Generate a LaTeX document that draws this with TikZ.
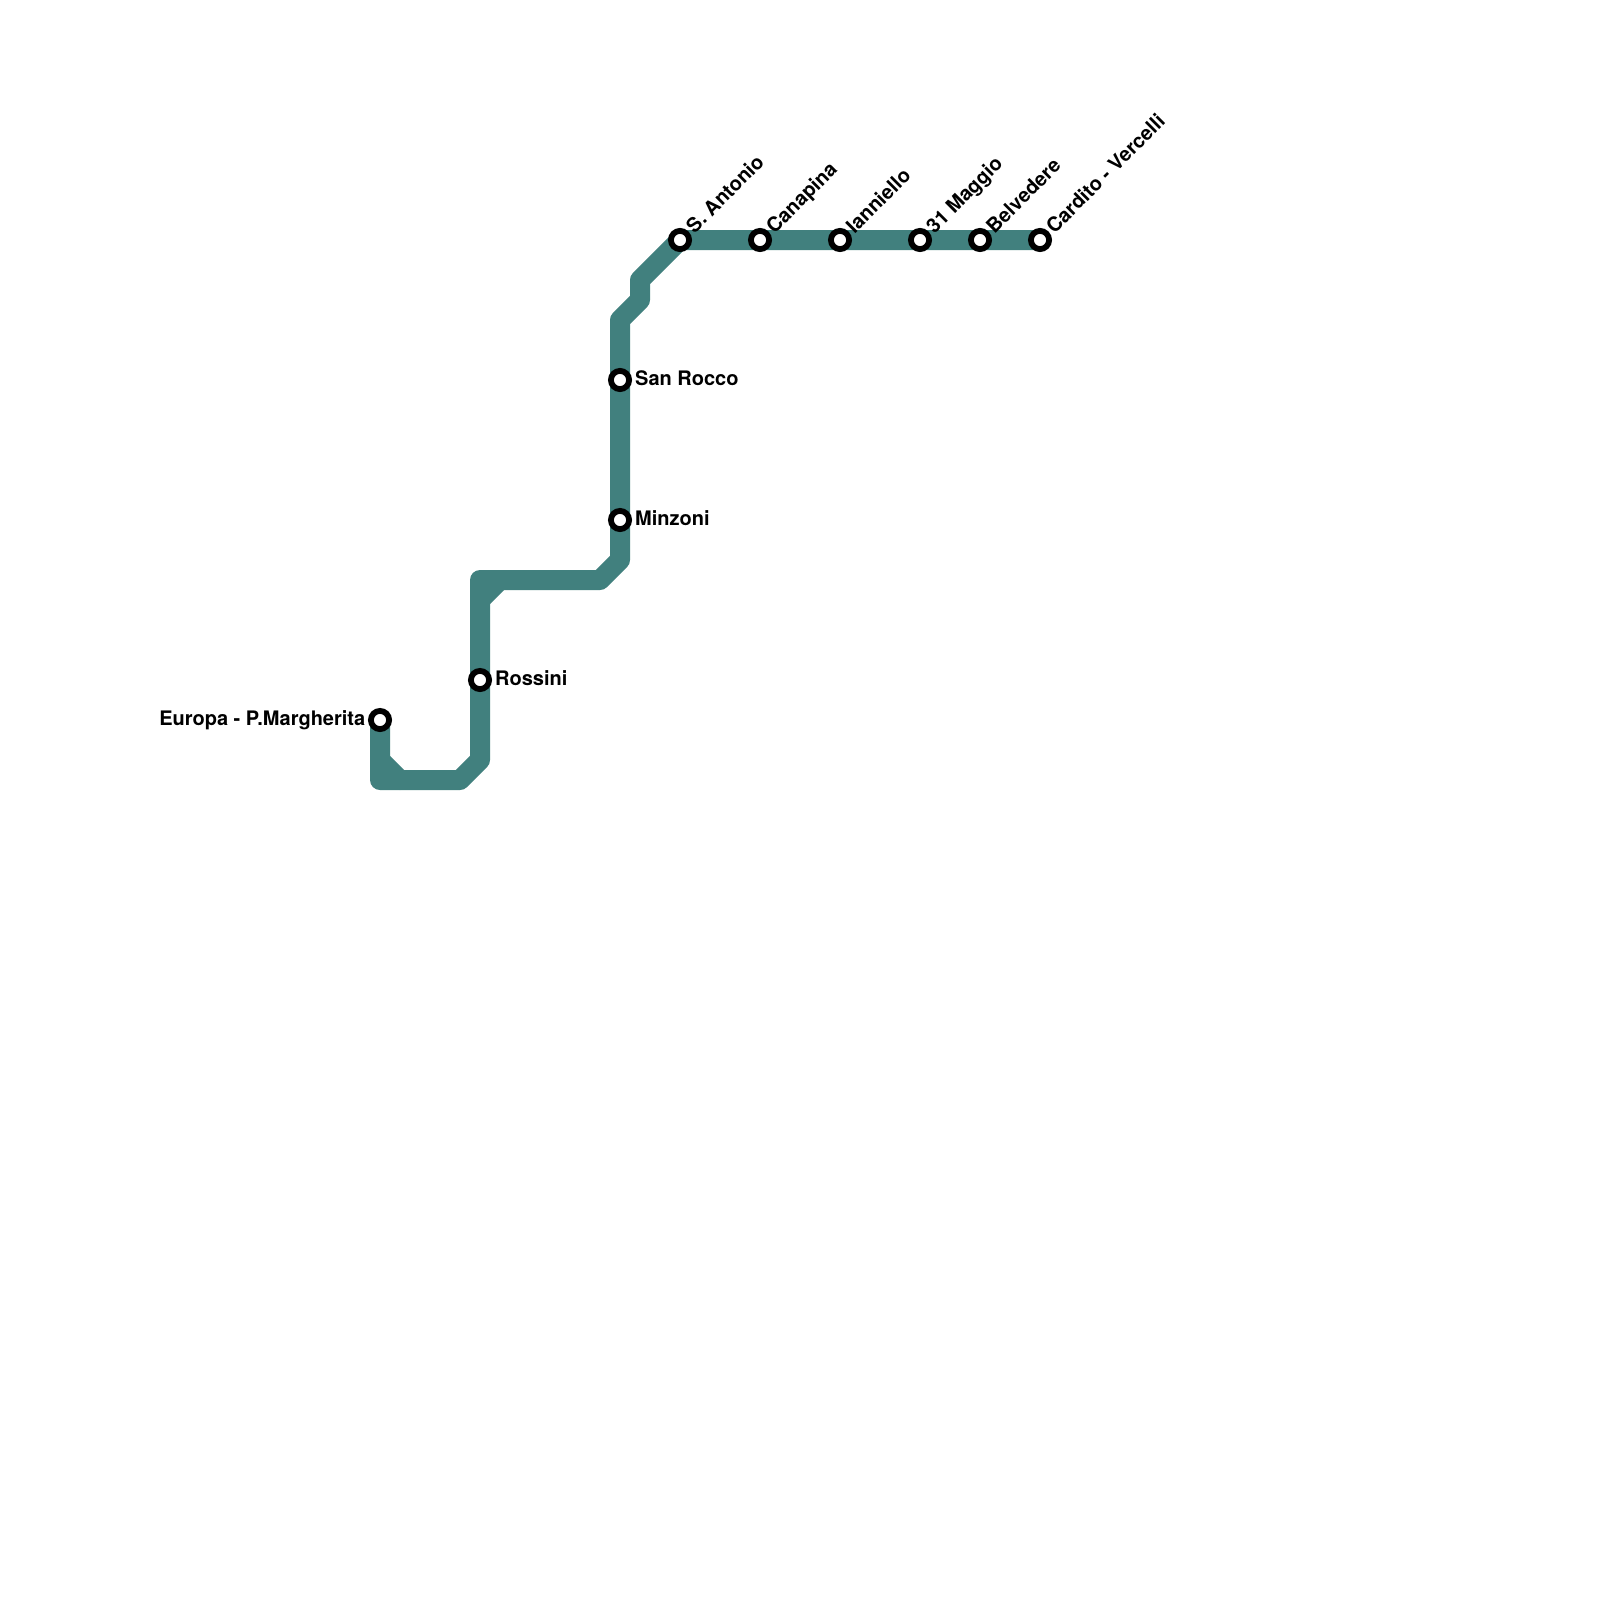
\documentclass[tikz,border=0pt]{standalone}
\usepackage{fontspec}
\usetikzlibrary{backgrounds}
\setmainfont{TeX Gyre Heros}
\definecolor{linecol}{HTML}{41807E}
\tikzset{
  metro/.style={draw=linecol,line width=20pt,line join=round,line cap=round},
  stn/.style={circle,draw=black,fill=white,line width=5.8pt,minimum size=18.2pt,inner sep=0pt,outer sep=0pt},
  lbl/.style={font=\fontsize{20}{20}\selectfont\bfseries,inner sep=0pt,text=black},
  rlbl/.style={lbl,anchor=base west},
  llbl/.style={lbl,anchor=base east},
  dlbl/.style={lbl,anchor=base west,rotate=45}
}
\begin{document}
\begin{tikzpicture}[x=1pt,y=-1pt]
\useasboundingbox (0,0) rectangle (1600,1600);
\coordinate (a1) at (380,780);
\coordinate (a2) at (460,780);
\coordinate (a3) at (480,760);
\coordinate (b1) at (480,580);
\coordinate (b2) at (600,580);
\coordinate (b3) at (620,560);
\coordinate (c1) at (620,320);
\coordinate (c2) at (640,300);
\coordinate (c3) at (640,280);
\coordinate (d1) at (380,760);
\coordinate (d2) at (400,780);
\coordinate (e1) at (480,600);
\coordinate (e2) at (500,580);
\node[stn] (europa) at (380,720) {};
\node[stn] (rossini) at (480,680) {};
\node[stn] (minzoni) at (620,520) {};
\node[stn] (rocco) at (620,380) {};
\node[stn] (antonio) at (680,240) {};
\node[stn] (canapina) at (760,240) {};
\node[stn] (ianniello) at (840,240) {};
\node[stn] (maggio) at (920,240) {};
\node[stn] (belvedere) at (980,240) {};
\node[stn] (cardito) at (1040,240) {};
\begin{scope}[on background layer]
\fill[white] (0,0) rectangle (1600,1600);
\draw[metro] (europa.center) -- (a1) -- (a2) -- (a3) -- (rossini.center) -- (b1) -- (b2) -- (b3) -- (minzoni.center) -- (rocco.center) -- (c1) -- (c2) -- (c3) -- (antonio.center) -- (canapina.center) -- (ianniello.center) -- (maggio.center) -- (belvedere.center) -- (cardito.center);
\draw[metro] (d1) -- (d2);
\draw[metro] (e1) -- (e2);
\end{scope}
\node[llbl] (t1) at (365.5,725) {Europa - P.Margherita};
\node[rlbl] (t2) at (495,685) {Rossini};
\node[rlbl] (t3) at (635,525) {Minzoni};
\node[rlbl] (t4) at (635,385) {San Rocco};
\node[dlbl] (t5) at (694.5,234.5) {S. Antonio};
\node[dlbl] (t6) at (774.5,234.5) {Canapina};
\node[dlbl] (t7) at (854.5,234.5) {Ianniello};
\node[dlbl] (t8) at (934.5,234.5) {31 Maggio};
\node[dlbl] (t9) at (994.5,234.5) {Belvedere};
\node[dlbl] (t10) at (1054.5,234.5) {Cardito - Vercelli};
\end{tikzpicture}
\end{document}
